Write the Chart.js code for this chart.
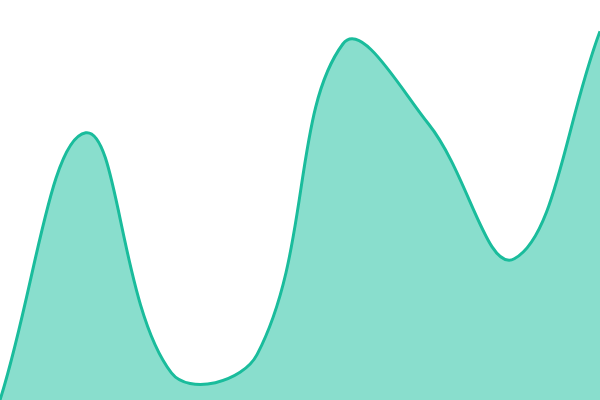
<!DOCTYPE html>
<html>
<head>
<meta charset="utf-8">
<script src="https://cdn.jsdelivr.net/npm/chart.js@4"></script>
<style>
  html, body { margin: 0; padding: 0; background: #fff; }
  #areaChart { display: block; }
</style>
</head>
<body>
<canvas id="areaChart" width="600" height="400"></canvas>
<script>
// data
const labels = ['1', '2', '3', '4', '5', '6', '7', '8'];
const values = [0, 66.8, 6.8, 11.4, 89, 69, 35.3, 92.2];
const yMin = 0;
const yMax = 100;

const ctx = document.getElementById('areaChart').getContext('2d');
new Chart(ctx, {
  type: 'line',
  data: {
    labels: labels,
    datasets: [{
      data: values,
      borderColor: '#1abc9c',
      backgroundColor: 'rgba(24, 190, 156, 0.51)',
      borderWidth: 3,
      fill: true,
      tension: 0.4,
      pointRadius: 0,
    }]
  },
  options: {
    responsive: false,
    animation: false,
    layout: { padding: 0 },
    plugins: {
      legend: { display: false },
      tooltip: { enabled: false },
    },
    scales: {
      x: { display: false, offset: false },
      y: { display: false, min: yMin, max: yMax },
    },
  }
});
</script>
</body>
</html>
